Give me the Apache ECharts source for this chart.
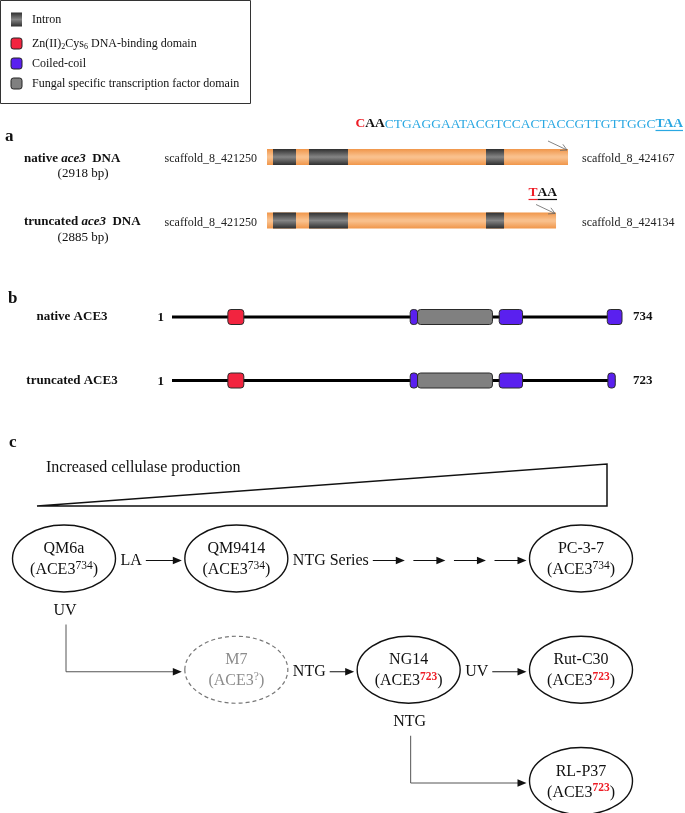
<!DOCTYPE html>
<html><head><meta charset="utf-8">
<script src="https://cdn.jsdelivr.net/npm/echarts@6/dist/echarts.min.js"></script>
<style>html,body{margin:0;padding:0;background:#fff}#c{width:685px;height:813px}</style>
</head><body><div id="c"></div>
<script>
// ================= DATA =================
// legend
const legendLabels = ['Intron', 'Zn(II)2Cys6 DNA-binding domain', 'Coiled-coil', 'Fungal specific transcription factor domain'];
const legendKinds = ['intron', 'zn', 'cc', 'ftf'];

// panel a : ace3 gene (bp)
const dnaNames = ['native', 'truncated'];
const dnaLengthBp = [2918, 2885];
const dnaBarEnd = [2918, 2802];            // drawn end of each bar (bp scale)
const dnaStartLabel = ['scaffold_8_421250', 'scaffold_8_421250'];
const dnaEndLabel = ['scaffold_8_424167', 'scaffold_8_424134'];
const intronStart = [58, 407, 2123];
const intronEnd = [281, 785, 2298];
const nativeSeqMut = 'C';
const nativeSeqBold = 'AA';
const nativeSeqTail = 'CTGAGGAATACGTCCACTACCGTTGTTGGC';
const nativeSeqStop = 'TAA';
const truncSeqMut = 'T';
const truncSeqBold = 'AA';

// panel b : ACE3 protein (aa)
const proteinNames = ['native ACE3', 'truncated ACE3'];
const proteinLength = [734, 723];
const domainProtein = [0, 0, 0, 0, 0, 1, 1, 1, 1, 1];
const domainKind = ['zn', 'cc', 'ftf', 'cc', 'cc', 'zn', 'cc', 'ftf', 'cc', 'cc'];
const domainStart = [92, 389, 401, 534, 710, 92, 389, 401, 534, 711];
const domainEnd = [118, 401, 523, 572, 734, 118, 401, 523, 572, 723];

// panel c : strain lineage
const productionTitle = 'Increased cellulase production';
const strainNames = ['QM6a', 'QM9414', 'PC-3-7', 'M7', 'NG14', 'Rut-C30', 'RL-P37'];
const strainAce3 = ['734', '734', '734', '?', '723', '723', '723'];
const strainStep = [0, 1, 3, 1, 2, 3, 3];
const strainLineage = [0, 0, 0, 1, 1, 1, 2];
const edgeFrom = ['QM6a', 'QM9414', 'QM6a', 'M7', 'NG14', 'NG14'];
const edgeTo = ['QM9414', 'PC-3-7', 'M7', 'NG14', 'Rut-C30', 'RL-P37'];
const edgeMutagen = ['LA', 'NTG Series', 'UV', 'NTG', 'UV', 'NTG'];

// ================= STYLE =================
const SERIF = '"Liberation Serif", "Times New Roman", serif';
const KIND_COLOR = { zn: '#f2243f', cc: '#5a20ef', ftf: '#808080' };
const SEQ_BLUE = '#2aa8e2';
const RED = '#ee1c25';
const RX = 51.5, RY = 33.5;
const CFONT = 16;

const G = echarts.graphic;
const orangeGrad = () => new G.LinearGradient(0, 0, 0, 1, [
  { offset: 0, color: '#f0964a' }, { offset: 0.45, color: '#f9c08c' },
  { offset: 0.55, color: '#f9c08c' }, { offset: 1, color: '#f0964a' }]);
const intronGrad = () => new G.LinearGradient(0, 0, 0, 1, [
  { offset: 0, color: '#2f2f2f' }, { offset: 0.5, color: '#858585' }, { offset: 1, color: '#2f2f2f' }]);

const mctx = document.createElement('canvas').getContext('2d');
function textW(str, font) { mctx.font = font; return mctx.measureText(str).width; }

function arrowParts(xa, xb, y, color) {
  return [
    { type: 'line', shape: { x1: xa, y1: y, x2: xb - 7, y2: y }, style: { stroke: color || '#111', lineWidth: 1 } },
    { type: 'polygon', shape: { points: [[xb, y], [xb - 9, y - 3.8], [xb - 9, y + 3.8]] }, style: { fill: '#111' } }
  ];
}

// ================= PANEL A =================
function renderDNA(params, api) {
  const i = api.value(0);
  const p0 = api.coord([0, i]);
  const x0 = p0[0], cy = p0[1];
  const x1 = api.coord([dnaBarEnd[i], i])[0];
  const xRef = api.coord([dnaLengthBp[0], i])[0];
  const kids = [];
  kids.push({ type: 'rect', shape: { x: x0, y: cy - 8, width: x1 - x0, height: 16 }, style: { fill: orangeGrad() } });
  for (let j = 0; j < intronStart.length; j++) {
    const a = api.coord([intronStart[j], i])[0], b = api.coord([intronEnd[j], i])[0];
    kids.push({ type: 'rect', shape: { x: a, y: cy - 8, width: b - a, height: 16 }, style: { fill: intronGrad() } });
  }
  kids.push({ type: 'text', style: {
    text: '{b|' + dnaNames[i] + ' }{bi|ace3}{b|  DNA}', x: 24, y: cy + 1.5, align: 'left', verticalAlign: 'middle',
    rich: { b: { fontFamily: SERIF, fontSize: 13, fontWeight: 'bold', fill: '#111' },
            bi: { fontFamily: SERIF, fontSize: 13, fontWeight: 'bold', fontStyle: 'italic', fill: '#111' } } } });
  kids.push({ type: 'text', style: { text: '(' + dnaLengthBp[i] + ' bp)', x: 83, y: cy + 17, align: 'center', verticalAlign: 'middle',
    fontFamily: SERIF, fontSize: 13, fill: '#111' } });
  kids.push({ type: 'text', style: { text: dnaStartLabel[i], x: x0 - 10, y: cy + 2, align: 'right', verticalAlign: 'middle',
    fontFamily: SERIF, fontSize: 12, fill: '#222' } });
  kids.push({ type: 'text', style: { text: dnaEndLabel[i], x: xRef + 14, y: cy + 2, align: 'left', verticalAlign: 'middle',
    fontFamily: SERIF, fontSize: 12, fill: '#222' } });
  // pointer to stop codon
  const tx = x1 - 1, ty = cy - 7, sx = x1 - 20, sy = cy - 16;
  const ang = Math.atan2(ty - sy, tx - sx);
  const hl = 7;
  kids.push({ type: 'line', shape: { x1: sx, y1: sy, x2: tx, y2: ty }, style: { stroke: '#666', lineWidth: 0.8 } });
  kids.push({ type: 'polyline', shape: { points: [
    [tx - hl * Math.cos(ang - 0.5), ty - hl * Math.sin(ang - 0.5)], [tx, ty],
    [tx - hl * Math.cos(ang + 0.5), ty - hl * Math.sin(ang + 0.5)]] }, style: { stroke: '#666', lineWidth: 0.8, fill: null } });
  const SF = 13.5;
  const boldF = 'bold ' + SF + 'px ' + SERIF;
  if (i === 0) {
    const right = x1 + 115, y = cy - 33;
    kids.push({ type: 'text', style: {
      text: '{r|' + nativeSeqMut + '}{k|' + nativeSeqBold + '}{n|' + nativeSeqTail + '}{s|' + nativeSeqStop + '}',
      x: right, y: y, align: 'right', verticalAlign: 'middle',
      rich: { r: { fontFamily: SERIF, fontSize: SF, fontWeight: 'bold', fill: RED },
              k: { fontFamily: SERIF, fontSize: SF, fontWeight: 'bold', fill: '#111' },
              n: { fontFamily: SERIF, fontSize: SF, fill: SEQ_BLUE },
              s: { fontFamily: SERIF, fontSize: SF, fontWeight: 'bold', fill: SEQ_BLUE } } } });
    const w = textW(nativeSeqStop, boldF);
    kids.push({ type: 'line', shape: { x1: right - w, y1: y + 6.5, x2: right, y2: y + 6.5 }, style: { stroke: SEQ_BLUE, lineWidth: 1.2 } });
  } else {
    const right = x1 + 1, y = cy - 27.5;
    kids.push({ type: 'text', style: {
      text: '{r|' + truncSeqMut + '}{k|' + truncSeqBold + '}', x: right, y: y, align: 'right', verticalAlign: 'middle',
      rich: { r: { fontFamily: SERIF, fontSize: SF, fontWeight: 'bold', fill: RED },
              k: { fontFamily: SERIF, fontSize: SF, fontWeight: 'bold', fill: '#111' } } } });
    const wk = textW(truncSeqBold, boldF), wr = textW(truncSeqMut, boldF);
    kids.push({ type: 'line', shape: { x1: right - wk - wr, y1: y + 6.5, x2: right - wk, y2: y + 6.5 }, style: { stroke: RED, lineWidth: 1.2 } });
    kids.push({ type: 'line', shape: { x1: right - wk, y1: y + 6.5, x2: right, y2: y + 6.5 }, style: { stroke: '#111', lineWidth: 1.2 } });
  }
  return { type: 'group', children: kids };
}

// ================= PANEL B =================
function renderProtein(params, api) {
  const i = api.value(0);
  const p0 = api.coord([1, i]);
  const x0 = p0[0], cy = p0[1];
  const x1 = api.coord([proteinLength[i], i])[0];
  const xRef = api.coord([proteinLength[0], i])[0];
  const kids = [];
  kids.push({ type: 'line', shape: { x1: x0, y1: cy, x2: x1, y2: cy }, style: { stroke: '#000', lineWidth: 3 } });
  for (let d = 0; d < domainKind.length; d++) {
    if (domainProtein[d] !== i) continue;
    const a = api.coord([domainStart[d], i])[0], b = api.coord([domainEnd[d], i])[0];
    kids.push({ type: 'rect', shape: { x: a, y: cy - 7.5, width: b - a, height: 15, r: 3 },
      style: { fill: KIND_COLOR[domainKind[d]], stroke: '#2a2a2a', lineWidth: 1 } });
  }
  kids.push({ type: 'text', style: { text: proteinNames[i], x: 72, y: cy, align: 'center', verticalAlign: 'middle',
    fontFamily: SERIF, fontSize: 13, fontWeight: 'bold', fill: '#111' } });
  kids.push({ type: 'text', style: { text: '1', x: x0 - 8, y: cy + 1, align: 'right', verticalAlign: 'middle',
    fontFamily: SERIF, fontSize: 13, fontWeight: 'bold', fill: '#111' } });
  kids.push({ type: 'text', style: { text: String(proteinLength[i]), x: xRef + 11, y: cy, align: 'left', verticalAlign: 'middle',
    fontFamily: SERIF, fontSize: 13, fontWeight: 'bold', fill: '#111' } });
  return { type: 'group', children: kids };
}

// ================= PANEL C =================
function renderStrain(params, api) {
  const i = params.dataIndex;
  const p = api.coord([api.value(0), api.value(1)]);
  const unknown = strainAce3[i] === '?';
  const mutant = strainAce3[i] === '723';
  const txtCol = unknown ? '#8c8c8c' : '#111';
  const supStyle = { fontFamily: SERIF, fontSize: 11.5, lineHeight: 17, verticalAlign: 'top',
    fill: mutant ? RED : txtCol, fontWeight: mutant ? 'bold' : 'normal' };
  return { type: 'group', children: [
    { type: 'ellipse', shape: { cx: p[0], cy: p[1], rx: RX, ry: RY },
      style: { fill: '#fff', stroke: unknown ? '#777' : '#111', lineWidth: unknown ? 1.2 : 1.4, lineDash: unknown ? [4, 3] : null } },
    { type: 'text', style: {
      text: '{n|' + strainNames[i] + '}\n{n|(ACE3}{s|' + strainAce3[i] + '}{n|)}',
      x: p[0], y: p[1] + 1, align: 'center', verticalAlign: 'middle',
      rich: { n: { fontFamily: SERIF, fontSize: CFONT, lineHeight: 21, fill: txtCol }, s: supStyle } } }
  ] };
}

function renderEdge(params, api) {
  const j = params.dataIndex;
  const s = strainNames.indexOf(edgeFrom[j]), t = strainNames.indexOf(edgeTo[j]);
  const sp = api.coord([strainStep[s], strainLineage[s]]);
  const tp = api.coord([strainStep[t], strainLineage[t]]);
  const label = edgeMutagen[j];
  const font = CFONT + 'px ' + SERIF;
  let kids = [];
  if (strainLineage[s] === strainLineage[t]) {
    const y = sp[1] + 2;
    const lx = sp[0] + RX + 5;
    const w = textW(label, font);
    kids.push({ type: 'text', style: { text: label, x: lx, y: y, align: 'left', verticalAlign: 'middle',
      fontFamily: SERIF, fontSize: CFONT, fill: '#111' } });
    const a0 = lx + w + 4, a1 = tp[0] - RX - 3;
    if (/Series/.test(label)) {
      const n = 4, L = 32, g = (a1 - a0 - n * L) / (n - 1);
      for (let k = 0; k < n; k++) kids = kids.concat(arrowParts(a0 + k * (L + g), a0 + k * (L + g) + L, y));
    } else {
      kids = kids.concat(arrowParts(a0, a1, y));
    }
  } else {
    const x = sp[0] + 2, yEnd = tp[1] + 2, tip = tp[0] - RX - 3;
    kids.push({ type: 'text', style: { text: label, x: sp[0] + 1, y: sp[1] + 52, align: 'center', verticalAlign: 'middle',
      fontFamily: SERIF, fontSize: CFONT, fill: '#111' } });
    kids.push({ type: 'polyline', shape: { points: [[x, sp[1] + 66], [x, yEnd], [tip - 7, yEnd]] },
      style: { stroke: '#555', lineWidth: 1, fill: null } });
    kids.push({ type: 'polygon', shape: { points: [[tip, yEnd], [tip - 9, yEnd - 3.8], [tip - 9, yEnd + 3.8]] }, style: { fill: '#111' } });
  }
  return { type: 'group', children: kids };
}

// ================= LEGEND / ANNOTATIONS =================
const legendY = [19.5, 43.5, 63.5, 83.5];
const graphic = [
  { type: 'rect', shape: { x: 0.5, y: 0.5, width: 250, height: 103 }, style: { fill: 'none', stroke: '#333', lineWidth: 1 } }
];
legendKinds.forEach((k, i) => {
  if (k === 'intron') {
    graphic.push({ type: 'rect', shape: { x: 11, y: legendY[i] - 7, width: 11, height: 14 }, style: { fill: intronGrad() } });
  } else {
    graphic.push({ type: 'rect', shape: { x: 11, y: legendY[i] - 5.5, width: 11, height: 11, r: 2.5 },
      style: { fill: KIND_COLOR[k], stroke: '#222', lineWidth: 1 } });
  }
  const rich = { n: { fontFamily: SERIF, fontSize: 12, lineHeight: 15, fill: '#111' },
                 sub: { fontFamily: SERIF, fontSize: 8, lineHeight: 9, verticalAlign: 'bottom', fill: '#111' } };
  let txt = '{n|' + legendLabels[i] + '}';
  const m = legendLabels[i].match(/^(Zn\(II\))(\d)(Cys)(\d)(.*)$/);
  if (m) txt = '{n|' + m[1] + '}{sub|' + m[2] + '}{n|' + m[3] + '}{sub|' + m[4] + '}{n|' + m[5] + '}';
  graphic.push({ type: 'text', style: { text: txt, x: 32, y: legendY[i], align: 'left', verticalAlign: 'middle', rich: rich } });
});
[['a', 5, 137], ['b', 8, 299], ['c', 9, 443]].forEach(l => {
  graphic.push({ type: 'text', style: { text: l[0], x: l[1], y: l[2], verticalAlign: 'middle',
    fontFamily: SERIF, fontSize: 17, fontWeight: 'bold', fill: '#111' } });
});
graphic.push({ type: 'polygon', shape: { points: [[37, 506], [607, 464], [607, 506]] },
  style: { fill: 'none', stroke: '#111', lineWidth: 1.5 } });
graphic.push({ type: 'text', style: { text: productionTitle, x: 46, y: 468, verticalAlign: 'middle',
  fontFamily: SERIF, fontSize: 16, fill: '#111' } });

// ================= OPTION =================
const hidden = { show: false };
const option = {
  animation: false,
  backgroundColor: '#fff',
  grid: [
    { left: 267, top: 157, width: 301, height: 63.5 },
    { left: 172, top: 317, width: 450, height: 63.5 },
    { left: 64, top: 558.5, width: 517, height: 222.5 }
  ],
  xAxis: [
    Object.assign({ type: 'value', gridIndex: 0, min: 0, max: dnaLengthBp[0] }, hidden),
    Object.assign({ type: 'value', gridIndex: 1, min: 1, max: proteinLength[0] }, hidden),
    Object.assign({ type: 'value', gridIndex: 2, min: 0, max: 3 }, hidden)
  ],
  yAxis: [
    Object.assign({ type: 'value', gridIndex: 0, min: 0, max: 1, inverse: true }, hidden),
    Object.assign({ type: 'value', gridIndex: 1, min: 0, max: 1, inverse: true }, hidden),
    Object.assign({ type: 'value', gridIndex: 2, min: 0, max: 2, inverse: true }, hidden)
  ],
  graphic: graphic,
  series: [
    { type: 'custom', xAxisIndex: 0, yAxisIndex: 0, clip: false, renderItem: renderDNA,
      data: dnaNames.map((n, i) => [i]) },
    { type: 'custom', xAxisIndex: 1, yAxisIndex: 1, clip: false, renderItem: renderProtein,
      data: proteinNames.map((n, i) => [i]) },
    { type: 'custom', xAxisIndex: 2, yAxisIndex: 2, clip: false, renderItem: renderEdge,
      data: edgeMutagen.map((m, j) => [j]) },
    { type: 'custom', xAxisIndex: 2, yAxisIndex: 2, clip: false, renderItem: renderStrain,
      data: strainNames.map((n, i) => [strainStep[i], strainLineage[i]]) }
  ]
};
const chart = echarts.init(document.getElementById('c'), null, { renderer: 'canvas' });
chart.setOption(option);
</script>
</body></html>
